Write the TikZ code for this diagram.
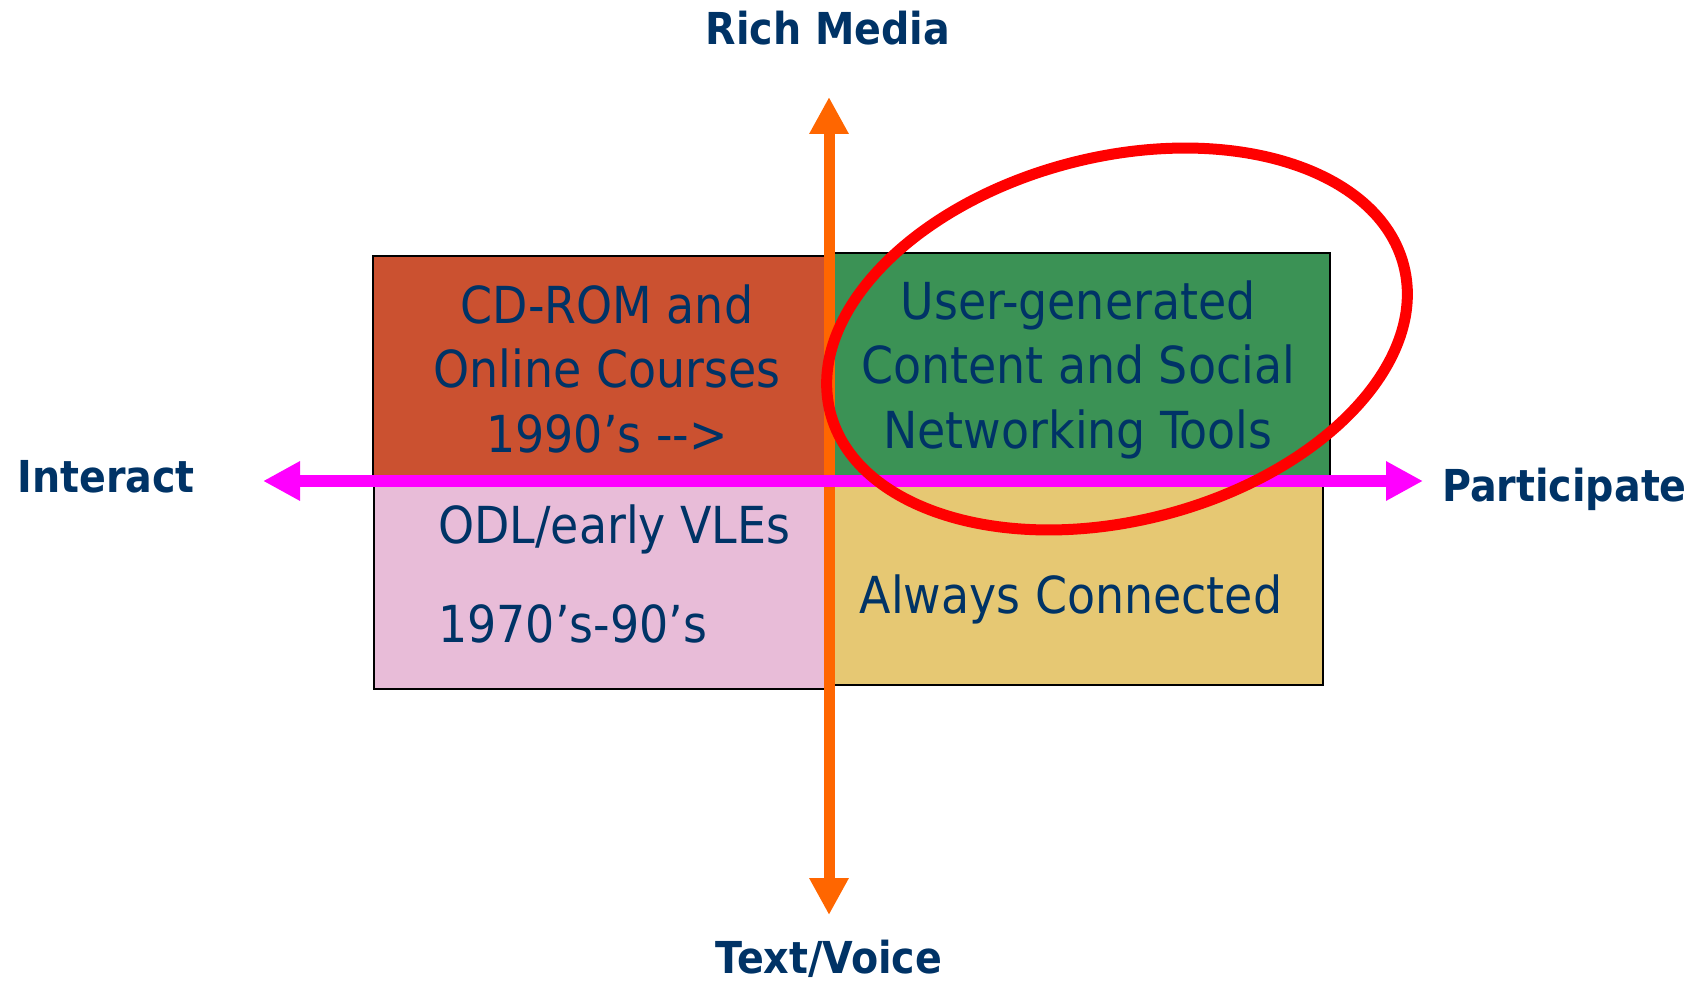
\documentclass[tikz,border=0pt]{standalone}
\usepackage{fontspec}
\setmainfont{DejaVu Sans Condensed}
\usepackage{tikz}
\usetikzlibrary{arrows.meta}

\definecolor{navy}{RGB}{0,51,102}
\definecolor{cdrom}{RGB}{203,81,48}
\definecolor{social}{RGB}{59,146,85}
\definecolor{odl}{RGB}{232,188,216}
\definecolor{always}{RGB}{230,200,115}
\definecolor{mediaaxis}{RGB}{255,102,0}
\definecolor{partaxis}{RGB}{255,0,255}

\begin{document}
\begin{tikzpicture}[x=0.5pt,y=-0.5pt,
    quad/.style={draw=black,line width=1pt},
    body/.style={inner sep=0pt,text=navy,font=\fontsize{25.5}{32.25}\selectfont},
    axislabel/.style={inner sep=0pt,text=navy,font=\fontsize{22}{26}\selectfont\bfseries},
    axisarrow/.style={line width=6pt,{Triangle[length=18.5pt,width=18.5pt]}-{Triangle[length=18.5pt,width=18.5pt]}}]
  \useasboundingbox (0,0) rectangle (1706,984);
  % the four quadrants
  \draw[quad,fill=cdrom] (373,256) rectangle (826,481);
  \draw[quad,fill=odl] (374,481) rectangle (826,689);
  \draw[quad,fill=social] (826,253) rectangle (1330,481);
  \draw[quad,fill=always] (826,481) rectangle (1323,685);
  % quadrant texts (base = baseline of the last line)
  \node[body,anchor=base,align=center] (cdromtxt) at (607,452) {CD-ROM and\\Online Courses\\1990’s {-}{-}>};
  \node[body,anchor=base,align=center] (socialtxt) at (1078,448) {User-generated\\Content and Social\\Networking Tools};
  \node[body,anchor=base west,align=left,font=\fontsize{25.5}{49.5}\selectfont] (odltxt) at (438,642) {ODL/early VLEs\\1970’s-90’s};
  \node[body,anchor=base] (alwaystxt) at (1071,613) {Always Connected};
  % axis labels
  \node[axislabel,anchor=base] (rich) at (828,45) {Rich Media};
  \node[axislabel,anchor=base] (textvoice) at (829,973) {Text/Voice};
  \node[axislabel,anchor=base west] (interact) at (17,492) {Interact};
  \node[axislabel,anchor=base west] (participate) at (1442,501) {Participate};
  % axes
  \coordinate (mediatop) at (829,97);
  \coordinate (mediabot) at (829,915);
  \coordinate (partleft) at (263,481);
  \coordinate (partright) at (1423,481);
  \draw[axisarrow,mediaaxis,line width=5.5pt] (mediabot) -- (mediatop);
  \draw[axisarrow,partaxis] (partleft) -- (partright);
  % highlight round the social quadrant
  \draw[red,line width=5.5pt,rotate around={14.3:(1117,339)}] (1117,339) ellipse [x radius=148pt,y radius=91pt];
\end{tikzpicture}
\end{document}
